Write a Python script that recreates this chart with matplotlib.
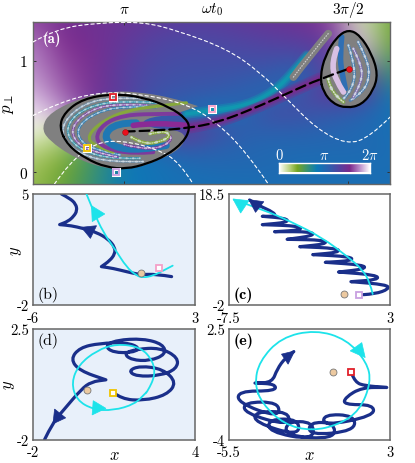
"""plot.py -- phase map of p_perp vs omega t0 with four sample trajectories."""
import numpy as np
import matplotlib
matplotlib.use("Agg")
import matplotlib.pyplot as plt
from matplotlib.colors import LinearSegmentedColormap
from matplotlib.patches import PathPatch, Polygon
from matplotlib.path import Path

plt.rcParams["font.family"] = ["cmr10", "DejaVu Sans"]
plt.rcParams["mathtext.fontset"] = "cm"
plt.rcParams["axes.unicode_minus"] = False

NAVY = "#1a2f8a"
CYAN = "#1de3ea"
TAN = "#ecc9a0"
SPINE = "#666666"

# ---- panel (a): omega t0 is in units of pi
PHASE_STOPS = [0, .12, .2, .33, .42, .55, .68, .78, .88, 1]
PHASE_COLORS = ["#ffffff", "#b5cf7a", "#76a624", "#2f8f80", "#0b7ab8", "#2e5fae",
                "#5a3e9e", "#7d2a8c", "#b585c5", "#ffffff"]
FIELD_X = [.796, .863, .93, .997, 1.065, 1.132, 1.199, 1.266, 1.333, 1.40, 1.467, 1.535, 1.594]
FIELD_Y = [1.347, 1.183, 1.018, .853, .689, .524, .359, .195, .03, -.105]
FIELD = [
    [.82, .76, .74, .73, .70, .68, .68, .70, .72, .74, .80, .05, .22],
    [.86, .78, .75, .71, .66, .64, .64, .65, .67, .68, .72, .95, .22],
    [.88, .80, .76, .69, .64, .62, .62, .62, .62, .60, .70, .90, .27],
    [.90, .82, .76, .67, .62, .60, .60, .58, .56, .50, .70, .80, .33],
    [.93, .84, .76, .68, .60, .58, .56, .54, .50, .60, .70, .70, .40],
    [.97, .90, .70, .60, .55, .50, .45, .50, .62, .60, .58, .55, .45],
    [.02, .10, .50, .55, .55, .75, .62, .55, .55, .55, .52, .50, .47],
    [.10, .15, .30, .45, .50, .58, .55, .52, .50, .50, .50, .50, .48],
    [.14, .20, .30, .42, .45, .48, .50, .50, .50, .48, .48, .48, .48],
    [.16, .22, .32, .42, .45, .47, .47, .48, .48, .48, .48, .48, .48],
]

loop_l_x = [.854, .867, .908, .975, 1.042, 1.102, 1.139, 1.147, 1.132, 1.094, 1.05, 1.005, .96, .915, .874]
loop_l_y = [.404, .539, .659, .704, .674, .584, .479, .389, .269, .15, .075, .03, .045, .12, .24]
loop_r_x = [1.4375, 1.449, 1.475, 1.501, 1.527, 1.553, 1.567, 1.557, 1.531, 1.497, 1.467, 1.445]
loop_r_y = [.853, 1.048, 1.213, 1.281, 1.228, 1.063, .883, .734, .605, .575, .614, .719]
gray_l_x = [.815, .835, .908, .975, 1.042, 1.109, 1.165, 1.165, 1.109, 1.057, 1.035, 1.079, 1.113, 1.14, 1.125, 1.079, 1.02, .96, .89, .83]
gray_l_y = [.404, .54, .675, .73, .715, .665, .593, .593, .515, .494, .434, .383, .383, .329, .21, .11, .03, .03, .125, .29]

# swirl strands: (x, y, colour, width, speckle alpha)
STRANDS_L = [
    ([1.05, .975, .908, .863, .863, .90, .968, 1.042], [.659, .674, .614, .449, .299, .165, .09, .096], "#6f8fa8", 1.8, .7),
    ([1.072, .990, .915, .874, .874, .915, .982, 1.035], [.623, .644, .584, .449, .299, .174, .12, .126], "#2f8fa8", 1.8, .6),
    ([1.05, .98, .925, .885, .885, .92, .985], [.60, .615, .56, .43, .30, .19, .138], "#7d4aa8", 1.8, .7),
    ([1.072, .997, .938, .897, .897, .930, .990], [.584, .593, .539, .419, .299, .204, .156], "#2f7fb4", 1.8, .6),
    ([1.139, 1.072, 1.005, .953, .917, .930, .975], [.623, .593, .554, .464, .329, .24, .18], "#86a83c", 2.2, 0),
    ([1.124, 1.057, .997, .953, .934, .960, 1.02, 1.065], [.524, .524, .509, .434, .299, .21, .165, .18], "#7d3a9c", 2.8, 0),
    ([1.027, .982, .953, .975, 1.035, 1.094], [.443, .443, .329, .225, .195, .24], "#1f78b4", 5.0, 0),
    ([1.0, 1.03, 1.08, 1.11, 1.09, 1.057], [.25, .215, .215, .30, .37, .37], "#7d3a9c", 2.0, .6),
    ([1.016, 1.042, 1.079, 1.105, 1.087, 1.057], [.314, .254, .269, .329, .374, .344], "#86a83c", 2.4, .6),
    ([1.02, 1.072, 1.139], [.42, .45, .42], "#8a2a95", 4.0, 0),
]
STRANDS_R = [
    ([1.523, 1.542, 1.549, 1.535, 1.505], [1.168, 1.018, .868, .719, .644], "#5080b0", 2.2, .7),
    ([1.512, 1.531, 1.531, 1.512], [1.108, .958, .808, .674], "#7a6fb0", 2.2, .7),
    ([1.501, 1.516, 1.512, 1.49], [1.138, .958, .749, .659], "#4a80b0", 2.2, .7),
    ([1.456, 1.46, 1.49], [.838, .719, .629], "#7fa050", 2.8, .7),
    ([1.486, 1.482, 1.486, 1.494], [1.213, 1.048, .898, .749], "#2f6fb4", 4.0, 0),
    ([1.475, 1.464, 1.471, 1.49], [1.108, .988, .838, .719], "#d8c0e4", 4.0, 0),
]
tail_x = [1.378, 1.415, 1.456]
tail_y = [.853, 1.048, 1.243]
band_teal_x = [1.139, 1.199, 1.273, 1.333, 1.378, 1.408]
band_teal_y = [.524, .554, .599, .719, .898, 1.048]
band_purple_x = [1.147, 1.206, 1.288, 1.363, 1.437]
band_purple_y = [.404, .443, .569, .704, .838]
dash_x = [1.001, 1.072, 1.139, 1.206, 1.288, 1.363, 1.437, 1.502]
dash_y = [.365, .374, .395, .443, .569, .704, .838, .928]
fixed_x = [1.001, 1.502]
fixed_y = [.365, .928]
samples_x = [.974, .916, 1.197, .982]
samples_y = [.674, .222, .569, .003]
SAMPLE_COLORS = ["#e0202a", "#f0c400", "#f4a0c8", "#c8a0e0"]
SEP = [
    ([.796, .848, .945, 1.042, 1.117, 1.229, 1.303, 1.363, 1.43, 1.497, 1.549, 1.594],
     [1.168, 1.287, 1.341, 1.347, 1.272, 1.108, .898, .659, .389, .249, .314, .494]),
    ([.796, .856, .945, 1.035, 1.139, 1.206, 1.273, 1.322],
     [.509, .629, .719, .704, .614, .449, .18, -.105]),
    ([.844, .878, .938, .997, 1.072, 1.124, 1.154],
     [-.105, .09, .269, .284, .21, .09, -.105]),
]

# ---- panels (b)-(e)
b_navy_x = [-4.42, -3.96, -3.62, -3.55, -3.74, -4.05, -4.52, -4.52, -3.87, -3.22, -2.47, -1.82, -1.45, -1.45, -1.73, -2.20, -2.20, -1.55, -.80, -.06, .87, 1.70]
b_navy_y = [5, 4.73, 4.37, 3.95, 3.59, 3.28, 3.07, 3.07, 3.0, 2.83, 2.58, 2.16, 1.64, 1.22, .80, .42, .42, .31, .10, -.09, -.05, -.21]
b_cyan_x = [-3.03, -2.66, -2.10, -1.45, -.80, -.25, .12, .68, 1.24, 1.76]
b_cyan_y = [5, 3.95, 2.58, 1.53, .38, -.15, -.28, -.15, .17, .48]
b_heads = ([[-3.31, 2.9], [-2.47, 3.0], [-2.81, 2.2]], [[-2.75, 4.26], [-2.01, 3.74], [-2.71, 3.26]])

c_navy_x = [1.27, 2.03, 2.94, 2.78, .45, .45, 2.24, 2.13, -.36, -.36, 1.38, 1.29, -1.22, -1.22, .55, .45, -2.04, -2.04, -.31, -.42, -2.89, -2.89, -1.16, -1.26, -3.71, -3.71, -1.98, -2.09, -4.53, -4.53, -2.78, -2.89, -5.33, -5.33, -3.65, -3.75, -5.33, -5.33, -4.47, -4.58, -5.55, -6.16]
c_navy_y = [-.09, .03, .96, 1.76, 2.31, 2.31, 2.68, 3.54, 4.09, 4.09, 4.65, 5.39, 5.88, 5.88, 6.19, 6.93, 7.30, 7.30, 7.73, 8.47, 8.77, 8.77, 9.27, 10.0, 10.13, 10.13, 10.8, 11.54, 11.54, 11.54, 11.85, 12.59, 12.84, 12.84, 13.27, 14.0, 14.38, 14.38, 14.38, 15.11, 16.35, 17.39]
c_cyan_x = [1.87, 1.70, 1.16, .29, -1.44, -3.60, -5.12, -7.18]
c_cyan_y = [.03, 2.19, 4.65, 6.80, 10.5, 13.58, 15.42, 17.45]
c_heads = ([[-6.2, 17.45], [-5.23, 17.08], [-5.77, 15.11]], [[-7.24, 17.58], [-6.2, 17.27], [-6.74, 14.99]])

d_navy_x = [.98, 1.28, 2.08, 2.95, 3.32, 2.82, 1.96, 1.53, 1.83, 2.70, 3.32, 3.38, 2.70, 1.83, 1.36, 1.65, 2.33, 2.92, 2.82, 2.08, 1.09, .66, .97, 1.71, 1.96, 1.46, .47, -.27, -.61, -.27, .70, .70, .16, -.21, -.89, -1.26, -1.57]
d_navy_y = [-.09, -.35, -.42, -.19, .32, .87, 1.0, .80, .57, .60, .87, 1.34, 1.74, 1.68, 1.50, 1.24, 1.20, 1.47, 1.88, 2.11, 2.05, 1.81, 1.54, 1.54, 1.74, 1.95, 1.92, 1.74, 1.27, .80, .43, .43, .35, .05, -.83, -1.30, -2.0]
d_cyan_x = [2.14, 1.77, .97, .23, -.38, -.58, -.30, .35, 1.09, 2.0, 2.45, 2.52, 2.25]
d_cyan_y = [-.14, -.56, -.82, -.78, -.40, .32, 1.05, 1.62, 1.90, 1.76, 1.18, .60, -.03]
d_heads = ([[-1.26, -1.36], [-.79, -1.12], [-1.2, -.76]], [[.70, -.73], [.23, -.42], [.19, -1.0]])

e_navy_x = [.99, 1.16, 1.69, 2.83, 2.83, 1.51, .64, .55, 2.13, 2.13, -.50, -.50, 1.13, 1.13, -1.26, -1.26, .07, .07, -2.48, -2.48, -1.05, -1.05, -3.40, -3.40, -1.82, -1.82, -4.13, -4.13, -2.34, -2.34, -4.69, -4.69, -2.87, -2.87, -5.01, -5.01, -3.05, -3.05, -4.13, -4.13, -3.22, -2.96, -2.52, -2.08]
e_navy_y = [-.15, -.64, -.84, -.94, -.94, -.94, -1.52, -1.95, -1.95, -2.62, -3.2, -2.52, -2.58, -3.5, -3.75, -2.98, -3.02, -3.98, -3.8, -2.95, -2.95, -4.05, -3.55, -2.8, -2.8, -3.8, -3.0, -2.36, -2.36, -3.2, -2.45, -1.8, -1.8, -2.72, -1.85, -1.15, -1.15, -.74, -.68, -.68, -.64, .14, .82, 1.17]
e_cyan_x = [-4.15, -3.9, -2.75, -.94, .7, 1.78, 2.0, 1.4, .3, -1.12, -2.58, -3.75]
e_cyan_y = [-.74, .6, 2.0, 2.45, 1.9, .55, -.64, -2.3, -3.12, -3.5, -3.12, -1.9]
e_heads = ([[-2.03, 1.21], [-2.73, 1.02], [-2.38, .43]], [[1.69, .82], [.90, 1.21], [1.51, 1.70]])


def smooth(ax, xs, ys, closed=False, filled=None, **kw):
    """Quadratic bezier path with the read-off points as control points."""
    pts = np.column_stack([xs, ys]).astype(float)
    if closed:
        first = (pts[-1] + pts[0]) / 2
        verts, codes = [first], [Path.MOVETO]
        for i in range(len(pts)):
            nxt = pts[(i + 1) % len(pts)]
            verts += [pts[i], (pts[i] + nxt) / 2]
            codes += [Path.CURVE3, Path.CURVE3]
    else:
        verts, codes = [pts[0]], [Path.MOVETO]
        for i in range(1, len(pts) - 1):
            end = pts[-1] if i == len(pts) - 2 else (pts[i] + pts[i + 1]) / 2
            verts += [pts[i], end]
            codes += [Path.CURVE3, Path.CURVE3]
    patch = PathPatch(Path(verts, codes), fc=filled or "none", capstyle="round",
                      joinstyle="round", **kw)
    ax.add_patch(patch)
    return patch


def place(left, top, right, bottom):
    return fig.add_axes([left / 415, 1 - bottom / 464, (right - left) / 415, (bottom - top) / 464])


def traj_panel(ax, xlim, ylim, navy, cyan, heads, tag, bold, bg, square, sq_color, closed=False):
    ax.set_facecolor(bg)
    ax.set_xlim(xlim)
    ax.set_ylim(ylim)
    ax.set_xticks(xlim, [str(v) for v in xlim], fontsize=10.5)
    ax.set_yticks(ylim, [str(v) for v in ylim], fontsize=10.5)
    ax.tick_params(axis="x", length=0, pad=4.5)
    ax.tick_params(axis="y", length=0, pad=3)
    smooth(ax, *navy, ec=NAVY, lw=2.3, zorder=2)
    smooth(ax, *cyan, closed=closed, ec=CYAN, lw=1.3, zorder=3)
    ax.add_patch(Polygon(heads[0], fc=NAVY, ec=NAVY, lw=.5, zorder=4))
    ax.add_patch(Polygon(heads[1], fc=CYAN, ec=CYAN, lw=.5, zorder=4))
    ax.plot(0, 0, "o", ms=5, mfc=TAN, mec="#777777", mew=.6, zorder=5)
    ax.plot(*square, "s", ms=4.5, mfc="white", mec=sq_color, mew=1.3, zorder=5)
    ax.text(.03, .1, tag, transform=ax.transAxes, fontsize=11.5, va="center",
            family="cmb10" if bold else "cmr10", zorder=6)
    for s in ax.spines.values():
        s.set_color(SPINE)
        s.set_linewidth(1.1)


fig = plt.figure(figsize=(4.15, 4.64), dpi=100)

# ---- (a)
ax = place(33, 23, 390, 185)
cmap = LinearSegmentedColormap.from_list("phase", list(zip(PHASE_STOPS, PHASE_COLORS)))
dx = (FIELD_X[-1] - FIELD_X[0]) / (len(FIELD_X) - 1)
dy = (FIELD_Y[0] - FIELD_Y[-1]) / (len(FIELD_Y) - 1)
ax.imshow(cmap(np.array(FIELD)), interpolation="bicubic", aspect="auto", zorder=0,
          extent=[FIELD_X[0] - dx / 2, FIELD_X[-1] + dx / 2, FIELD_Y[-1] - dy / 2, FIELD_Y[0] + dy / 2])
ax.set_xlim(FIELD_X[0], FIELD_X[-1])
ax.set_ylim(FIELD_Y[-1], FIELD_Y[0])

for w, al in ((9, .35), (6, .5), (3, .8)):
    smooth(ax, band_teal_x, band_teal_y, ec="#0f9cb0", lw=w * .8, alpha=al, zorder=1)
    smooth(ax, band_purple_x, band_purple_y, ec="#7d2a8c", lw=w, alpha=al, zorder=1)

smooth(ax, gray_l_x, gray_l_y, closed=True, filled="#808080", ec="none", zorder=2)
smooth(ax, loop_r_x, loop_r_y, closed=True, filled="#808080", ec="none", zorder=2)
smooth(ax, tail_x, tail_y, ec="#808080", lw=5.5, zorder=2)
smooth(ax, tail_x, tail_y, ec="white", lw=.9, alpha=.6, ls=(0, (.6, 1.6)), zorder=3)
for strands in (STRANDS_L, STRANDS_R):
    for sx, sy, col, w, speck in strands:
        smooth(ax, sx, sy, ec=col, lw=w, zorder=3)
        if speck:
            smooth(ax, sx, sy, ec="white", lw=w * .4, ls=(0, (.7, 1.1)), alpha=speck, zorder=3)
            smooth(ax, sx, sy, ec="#d8e0e8", lw=w * .8, ls=(.3, (.4, 2.9)), alpha=speck, zorder=3)

for sx, sy in SEP:
    smooth(ax, sx, sy, ec="white", lw=.8, ls=(0, (3, 2.5)), zorder=4)
smooth(ax, loop_l_x, loop_l_y, closed=True, ec="black", lw=1.6, zorder=5)
smooth(ax, loop_r_x, loop_r_y, closed=True, ec="black", lw=1.6, zorder=5)
smooth(ax, dash_x, dash_y, ec="black", lw=1.6, ls=(0, (4.5, 2.2)), zorder=5)
ax.plot(fixed_x, fixed_y, "o", ms=4.2, color="#e8101c", mec="#a00000", mew=.3, ls="none", zorder=6)
for sx, sy, col in zip(samples_x, samples_y, SAMPLE_COLORS):
    ax.plot(sx, sy, "s", ms=4.5, mfc="none", mec="white", mew=2.2, zorder=6, clip_on=False)
    ax.plot(sx, sy, "s", ms=4.5, mfc="none", mec=col, mew=1.3, zorder=6, clip_on=False)

ax.xaxis.tick_top()
ax.set_xticks([1, 1.5], [r"$\pi$", r"$3\pi/2$"], fontsize=11)
for lab in ax.get_xticklabels():
    lab.set_va("center")
ax.set_yticks([0, 1], ["0", "1"], fontsize=11)
ax.tick_params(length=2, width=.7, direction="in", top=True, bottom=True, left=True, right=True, pad=4, color="#333333")
ax.tick_params(axis="x", pad=9.5)
ax.text(.5, 1.083, r"$\omega t_0$", transform=ax.transAxes, fontsize=11, ha="center", va="center")
ax.set_ylabel(r"$p_\perp$", fontsize=12, labelpad=3)
ax.text(.026, .9, "(a)", transform=ax.transAxes, color="white", fontsize=10.5, family="cmb10", va="center", zorder=7)
for s in ax.spines.values():
    s.set_color(SPINE)
    s.set_linewidth(1.0)

# colour bar inside (a)
cax = fig.add_axes([279 / 415, 1 - 173.5 / 464, 91 / 415, 10 / 464])
cax.imshow(np.linspace(0, 1, 256)[None, :], cmap=cmap, aspect="auto")
cax.set_xticks([])
cax.set_yticks([])
for s in cax.spines.values():
    s.set_color("white")
    s.set_linewidth(1.0)
for frac, lab in zip((0, .5, 1), ("0", r"$\pi$", r"$2\pi$")):
    cax.text(frac, 1.75, lab, transform=cax.transAxes, color="white", fontsize=10.5, ha="center", va="center")

# ---- (b)-(e)
BLUE_BG = "#e8f0fa"
ax_b = place(33, 195, 195, 306)
traj_panel(ax_b, (-6, 3), (-2, 5), (b_navy_x, b_navy_y), (b_cyan_x, b_cyan_y), b_heads, "(b)", False, BLUE_BG, (1.02, .31), "#f4a0c8")
ax_c = place(229, 195, 390, 306)
traj_panel(ax_c, (-7.5, 3), (-2, 18.5), (c_navy_x, c_navy_y), (c_cyan_x, c_cyan_y), c_heads, "(c)", True, "white", (.965, -.09), "#c8a0e0")
ax_d = place(33, 330, 195, 440.5)
traj_panel(ax_d, (-2, 4), (-2, 2.5), (d_navy_x, d_navy_y), (d_cyan_x, d_cyan_y), d_heads, "(d)", False, BLUE_BG, (.98, -.09), "#f0c400", closed=True)
ax_e = place(229, 330, 390, 440.5)
traj_panel(ax_e, (-5.5, 3), (-4, 2.5), (e_navy_x, e_navy_y), (e_cyan_x, e_cyan_y), e_heads, "(e)", True, "white", (.95, 0), "#e0202a", closed=True)
ax_d.texts[0].set_position((.03, .9))
ax_e.texts[0].set_position((.03, .9))

for a in (ax_b, ax_d):
    a.set_ylabel(r"$y$", fontsize=12, labelpad=-5)
for a in (ax_d, ax_e):
    a.set_xlabel(r"$x$", fontsize=12, labelpad=-9)

fig.savefig("out.png", dpi=100)
